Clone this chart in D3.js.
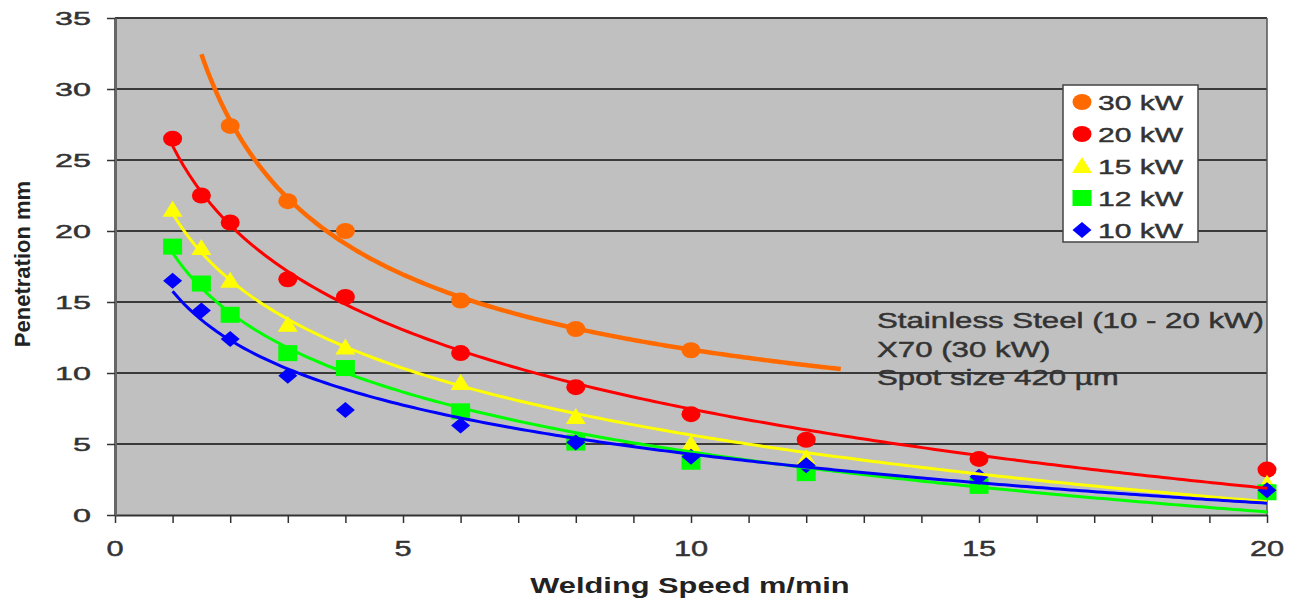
<!DOCTYPE html>
<html>
<head>
<meta charset="utf-8">
<script src="https://cdn.jsdelivr.net/npm/d3@7"></script>
<style>
  body { margin: 0; background: #fff; }
  svg text { font-family: "Liberation Sans", Arial, sans-serif; }
</style>
</head>
<body>
<svg id="chart" width="1294" height="603"></svg>
<script>
// data
var speeds = [1, 1.5, 2, 3, 4, 6, 8, 10, 12, 15, 20];
var speeds30 = [2, 3, 4, 6, 8, 10];
var pen30 = [27.4, 22.1, 20.0, 15.1, 13.1, 11.6];
var pen20 = [26.5, 22.5, 20.6, 16.6, 15.35, 11.4, 9.0, 7.1, 5.3, 3.95, 3.2];
var pen15 = [21.5, 18.8, 16.5, 13.4, 11.8, 9.3, 6.9, 5.0, 4.0, 2.6, 2.2];
var pen12 = [18.9, 16.3, 14.1, 11.4, 10.35, 7.3, 5.1, 3.75, 2.95, 2.05, 1.6];
var pen10 = [16.5, 14.4, 12.4, 9.8, 7.4, 6.3, 5.1, 4.1, 3.5, 2.7, 1.75];

var seriesNames = ["30 kW", "20 kW", "15 kW", "12 kW", "10 kW"];
var xTicks = [0, 5, 10, 15, 20];
var yTicks = [0, 5, 10, 15, 20, 25, 30, 35];
var noteLines = ["Stainless Steel (10 - 20 kW)", "X70 (30 kW)", "Spot size 420 \u00b5m"];

var series = [
  { name: seriesNames[0], xs: speeds30, ys: pen30, color: "#ff6a00", shape: "circle", fit: "power", from: 1.5, to: 12.6, lw: 4.5 },
  { name: seriesNames[1], xs: speeds, ys: pen20, color: "#ff0000", shape: "circle", fit: "log", from: 1, to: 20, lw: 3 },
  { name: seriesNames[2], xs: speeds, ys: pen15, color: "#ffff00", shape: "triangle", fit: "log", from: 1, to: 20, lw: 3 },
  { name: seriesNames[3], xs: speeds, ys: pen12, color: "#00ff00", shape: "square", fit: "log", from: 1, to: 20, lw: 3 },
  { name: seriesNames[4], xs: speeds, ys: pen10, color: "#0000ff", shape: "diamond", fit: "log", from: 1, to: 20, lw: 3 }
];

var svg = d3.select("#chart");
var plotL = 115, plotR = 1267, plotT = 18, plotB = 515;

var x = d3.scaleLinear().domain([0, 20]).range([plotL, plotR]);
var y = d3.scaleLinear().domain([0, 35]).range([plotB, plotT]);

// the original picture is stretched sideways, so the text is too
function wideText(g, tx, ty, txt, size, sx, anchor) {
  return g.append("text")
    .attr("transform", "translate(" + tx + "," + ty + ") scale(" + sx + ",1)")
    .attr("text-anchor", anchor || "start")
    .attr("font-size", size)
    .attr("fill", "#333")
    .attr("stroke", "#333")
    .attr("stroke-width", 0.45)
    .text(txt);
}

// least squares trendlines, like the spreadsheet does
function fitLine(xs, ys) {
  var mx = d3.mean(xs), my = d3.mean(ys);
  var sxy = 0, sxx = 0;
  for (var i = 0; i < xs.length; i++) {
    sxy += (xs[i] - mx) * (ys[i] - my);
    sxx += (xs[i] - mx) * (xs[i] - mx);
  }
  var b = sxy / sxx;
  return { b: b, a: my - b * mx };
}

function trendFn(s) {
  var lx = s.xs.map(Math.log);
  if (s.fit == "power") {
    var f = fitLine(lx, s.ys.map(Math.log));
    return function (v) { return Math.exp(f.a) * Math.pow(v, f.b); };
  }
  var g = fitLine(lx, s.ys);
  return function (v) { return g.a + g.b * Math.log(v); };
}

// plot area
svg.append("rect")
  .attr("x", plotL).attr("y", plotT)
  .attr("width", plotR - plotL).attr("height", plotB - plotT)
  .attr("fill", "#c0c0c0");

svg.append("g").selectAll("line")
  .data(yTicks.slice(1))
  .enter().append("line")
  .attr("x1", plotL).attr("x2", plotR)
  .attr("y1", function (d) { return y(d); })
  .attr("y2", function (d) { return y(d); })
  .attr("stroke", "#3a3a3a")
  .attr("stroke-width", 2);

svg.append("line")
  .attr("x1", plotR).attr("x2", plotR)
  .attr("y1", plotT).attr("y2", plotB)
  .attr("stroke", "#555").attr("stroke-width", 1.5);

// axes
var xAxis = svg.append("g")
  .attr("transform", "translate(0," + plotB + ")")
  .call(d3.axisBottom(x).ticks(20).tickSize(8).tickSizeOuter(0).tickFormat(""));
xAxis.selectAll("line").attr("stroke", "#333").attr("stroke-width", 1.5);
xAxis.select(".domain").attr("stroke", "#333").attr("stroke-width", 2);

var yAxis = svg.append("g")
  .attr("transform", "translate(" + plotL + ",0)")
  .call(d3.axisLeft(y).tickValues(yTicks).tickSize(8).tickSizeOuter(0).tickFormat(""));
yAxis.selectAll("line").attr("stroke", "#333").attr("stroke-width", 1.5);
yAxis.select(".domain").attr("stroke", "#666").attr("stroke-width", 3);

var labels = svg.append("g");
xTicks.forEach(function (d) {
  wideText(labels, x(d), 556, d, 22, 1.4, "middle");
});
yTicks.forEach(function (d) {
  wideText(labels, 91, y(d) + 7, d, 19, 1.7, "end");
});

wideText(svg, 690, 593, "Welding Speed m/min", 22, 1.4, "middle")
  .attr("font-weight", "bold")
  .attr("fill", "#222")
  .attr("stroke", "none");

svg.append("text")
  .attr("transform", "translate(30,264) rotate(-90)")
  .attr("text-anchor", "middle")
  .attr("font-size", 22)
  .attr("font-weight", "bold")
  .attr("fill", "#222")
  .text("Penetration mm");

// markers
function drawMarker(g, shape, color, cx, cy) {
  if (shape == "circle") {
    g.append("ellipse").attr("cx", cx).attr("cy", cy)
      .attr("rx", 9.5).attr("ry", 8).attr("fill", color);
  } else if (shape == "triangle") {
    g.append("path")
      .attr("d", "M" + cx + "," + (cy - 9) + "L" + (cx + 10) + "," + (cy + 7) + "L" + (cx - 10) + "," + (cy + 7) + "Z")
      .attr("fill", color);
  } else if (shape == "square") {
    g.append("rect").attr("x", cx - 9.5).attr("y", cy - 8)
      .attr("width", 19).attr("height", 16).attr("fill", color);
  } else {
    g.append("path")
      .attr("d", "M" + cx + "," + (cy - 8) + "L" + (cx + 9.5) + "," + cy + "L" + cx + "," + (cy + 8) + "L" + (cx - 9.5) + "," + cy + "Z")
      .attr("fill", color);
  }
}

series.forEach(function (s) {
  var g = svg.append("g");
  s.xs.forEach(function (v, i) {
    drawMarker(g, s.shape, s.color, x(v), y(s.ys[i]));
  });
});

// trendlines on top of markers
var line = d3.line()
  .x(function (d) { return x(d[0]); })
  .y(function (d) { return y(d[1]); });

series.forEach(function (s) {
  var f = trendFn(s);
  var pts = d3.range(0, 201).map(function (i) {
    var v = s.from + (s.to - s.from) * i / 200;
    return [v, f(v)];
  });
  svg.append("path")
    .datum(pts)
    .attr("d", line)
    .attr("fill", "none")
    .attr("stroke", s.color)
    .attr("stroke-width", s.lw);
});

// note
var note = svg.append("g");
noteLines.forEach(function (d, i) {
  wideText(note, 877, 328 + i * 28.5, d, 22, 1.42);
});

// legend
var legend = svg.append("g");
legend.append("rect")
  .attr("x", 1063).attr("y", 85)
  .attr("width", 135).attr("height", 157)
  .attr("fill", "#fff")
  .attr("stroke", "#444").attr("stroke-width", 1.5);

series.forEach(function (s, i) {
  var ly = 102 + i * 32;
  drawMarker(legend, s.shape, s.color, 1082, ly);
  wideText(legend, 1098, ly + 8, s.name, 21, 1.43);
});
</script>
</body>
</html>
